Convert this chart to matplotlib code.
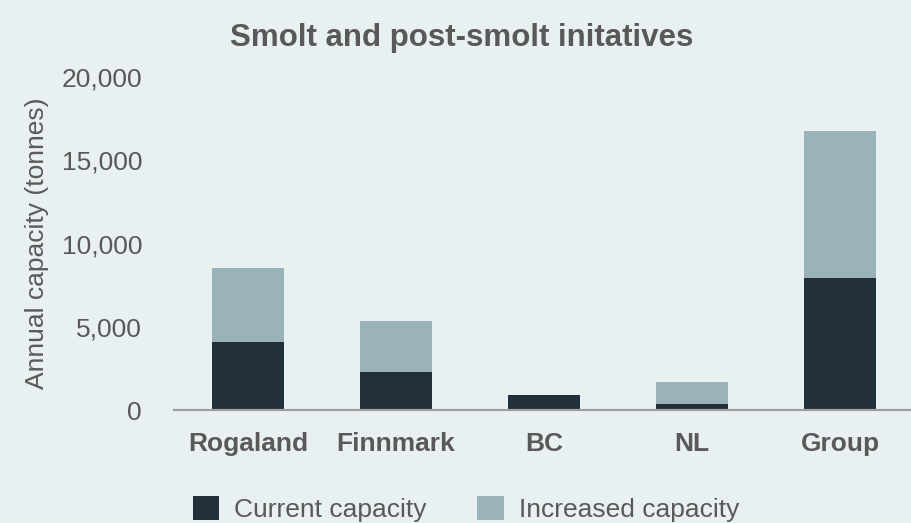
import matplotlib
matplotlib.use("Agg")
import matplotlib.pyplot as plt
from matplotlib.patches import Patch
import numpy as np

categories = ["Rogaland", "Finnmark", "BC", "NL", "Group"]
current = [4100, 2300, 900, 350, 7950]
increased = [4450, 3050, 0, 1350, 8800]
yticks = [0, 5000, 10000, 15000, 20000]
title = "Smolt and post-smolt initatives"
ylabel = "Annual capacity (tonnes)"
legend_labels = ["Current capacity", "Increased capacity"]

BG = "#E8F0F2"
DARK = "#22303B"
LIGHT = "#9AB3BA"
TXT = "#595959"

plt.rcParams["font.family"] = ["Liberation Sans", "DejaVu Sans"]

fig = plt.figure(figsize=(9.12, 5.23), dpi=100, facecolor=BG)
ax = fig.add_axes([174/912, 1-410/523, 740/912, (410-77.3)/523])
ax.set_facecolor(BG)

x = np.arange(len(categories))
ax.bar(x, current, width=0.49, color=DARK, zorder=2)
ax.bar(x, increased, width=0.49, bottom=current, color=LIGHT, zorder=2)

ax.set_xlim(-0.5, 4.5)
ax.set_ylim(0, 20000)
ax.set_yticks(yticks)
ax.set_yticklabels([f"{v:,}" for v in yticks], fontsize=19, color=TXT)
ax.set_xticks(x)
ax.set_xticklabels(categories, fontsize=19, fontweight="bold", color=TXT)
ax.tick_params(axis="y", length=0, pad=23)
ax.tick_params(axis="x", length=0, pad=16)
for s in ["top", "right", "left"]:
    ax.spines[s].set_visible(False)
ax.spines["bottom"].set_color("#A0A0A0")
ax.spines["bottom"].set_linewidth(1.6)
ax.spines["bottom"].set_zorder(3)

ax.set_ylabel(ylabel, fontsize=19, color=TXT)
ax.yaxis.set_label_coords(-(174-49)/740, 0.5)

fig.text(461.5/912, 1-38/523, title, ha="center", va="center",
         fontsize=22.5, fontweight="bold", color=TXT)

handles = [Patch(facecolor=DARK), Patch(facecolor=LIGHT)]
leg = fig.legend(handles, legend_labels, loc="center", bbox_to_anchor=(466/912, 1-509/523),
                 ncol=2, frameon=False, fontsize=19, handlelength=1.0, handleheight=1.0,
                 handletextpad=0.57, columnspacing=1.9, labelcolor=TXT)

fig.savefig("out.png", dpi=100, facecolor=BG)
